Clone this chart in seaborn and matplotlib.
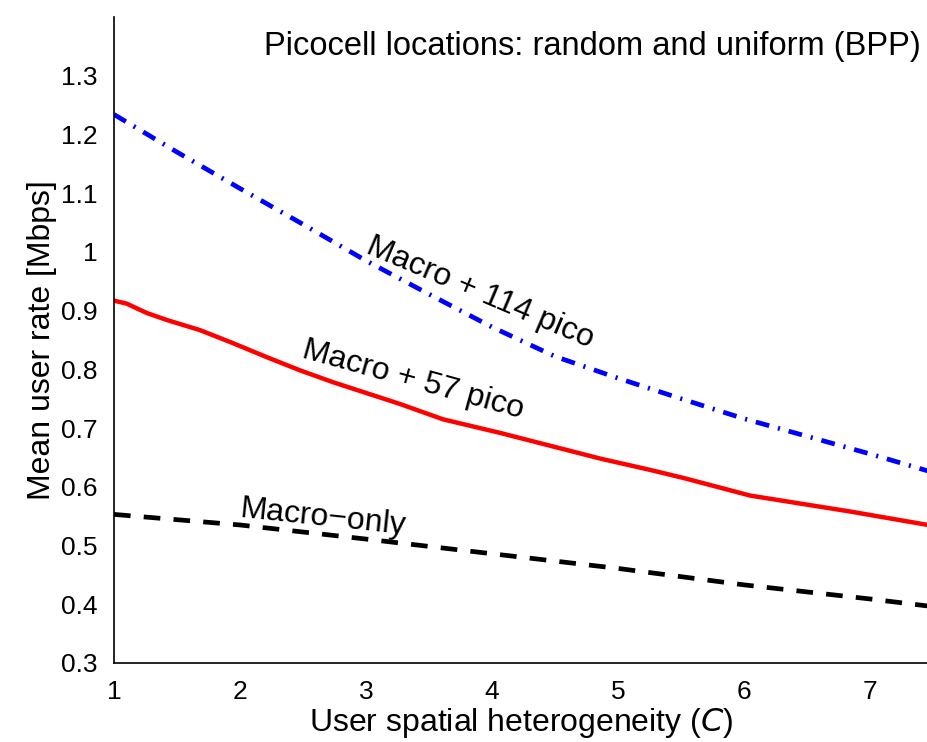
import matplotlib
matplotlib.use("Agg")
import matplotlib.pyplot as plt
import pandas as pd
import seaborn as sns
from matplotlib.ticker import FuncFormatter

# Mean user rate vs. user spatial heterogeneity C
c_pico114 = [1.0, 1.5, 2.0, 2.5, 3.0, 3.5, 4.0, 4.5, 5.0, 5.5, 6.0, 6.5, 7.0, 7.46]
rate_pico114 = [1.234, 1.170, 1.108, 1.047, 0.985, 0.928, 0.872, 0.822, 0.785, 0.750, 0.716, 0.686, 0.656, 0.627]

c_pico57 = [1.0, 1.10, 1.26, 1.42, 1.68, 1.94, 2.21, 2.48, 2.74, 3.27, 3.61, 4.06, 4.86, 5.25, 5.52, 6.05, 6.84, 7.46]
rate_pico57 = [0.917, 0.912, 0.896, 0.884, 0.867, 0.845, 0.821, 0.798, 0.778, 0.741, 0.715, 0.692, 0.648, 0.629, 0.615, 0.585, 0.558, 0.535]

c_macro = [1.0, 2.0, 3.0, 4.0, 5.0, 6.0, 7.0, 7.46]
rate_macro = [0.553, 0.535, 0.511, 0.486, 0.461, 0.433, 0.409, 0.397]

y_ticks = [0.3, 0.4, 0.5, 0.6, 0.7, 0.8, 0.9, 1.0, 1.1, 1.2, 1.3]
x_ticks = [1, 2, 3, 4, 5, 6, 7]

sns.set_style("white")
plt.rcParams["font.family"] = ["Liberation Sans", "DejaVu Sans"]
plt.rcParams["text.color"] = "black"
plt.rcParams["axes.labelcolor"] = "black"
plt.rcParams["xtick.color"] = "black"
plt.rcParams["ytick.color"] = "black"
plt.rcParams["lines.scale_dashes"] = False

fig = plt.figure(figsize=(9.28, 7.42), dpi=100)
ax = fig.add_axes([0.1228, 0.1065, 0.8772, 0.8706])

df114 = pd.DataFrame({"C": c_pico114, "rate": rate_pico114})
df57 = pd.DataFrame({"C": c_pico57, "rate": rate_pico57})
dfm = pd.DataFrame({"C": c_macro, "rate": rate_macro})

sns.lineplot(data=df114, x="C", y="rate", ax=ax, color="#0000ff", lw=3.4)
ax.lines[-1].set_dashes([10, 6.5, 1.5, 6.5])
sns.lineplot(data=df57, x="C", y="rate", ax=ax, color="#ff0000", lw=3.2)
sns.lineplot(data=dfm, x="C", y="rate", ax=ax, color="black", lw=3.4)
ax.lines[-1].set_dashes([12, 9.5])

ax.set_xlim(1, 7.46)
ax.set_ylim(0.3, 1.4)
ax.set_xticks(x_ticks)
ax.set_yticks(y_ticks)
ax.yaxis.set_major_formatter(FuncFormatter(lambda v, p: f"{v:g}"))

for s in ["top", "right"]:
    ax.spines[s].set_visible(False)
for s in ["left", "bottom"]:
    ax.spines[s].set_color("black")
    ax.spines[s].set_linewidth(1.2)

ax.tick_params(axis="both", which="major", direction="out", length=7, width=1.0,
               labelsize=19, color="black", labelcolor="black", pad=5)

ax.set_xlabel("User spatial heterogeneity ($\\mathit{C}$)", fontsize=23, labelpad=2)
ax.set_ylabel("Mean user rate [Mbps]", fontsize=23, labelpad=3)

ax.text(7.40, 1.349, "Picocell locations: random and uniform (BPP)", fontsize=23.5,
        ha="right", va="center")

ax.text(3.905, 0.930, "Macro + 114 pico", fontsize=23, rotation=-23,
        ha="center", va="center", rotation_mode="anchor")
ax.text(3.373, 0.782, "Macro + 57 pico", fontsize=23, rotation=-15.5,
        ha="center", va="center", rotation_mode="anchor")
ax.text(2.659, 0.547, "Macro\u2212only", fontsize=23, rotation=-6,
        ha="center", va="center", rotation_mode="anchor")

fig.savefig("out.png", dpi=100)
